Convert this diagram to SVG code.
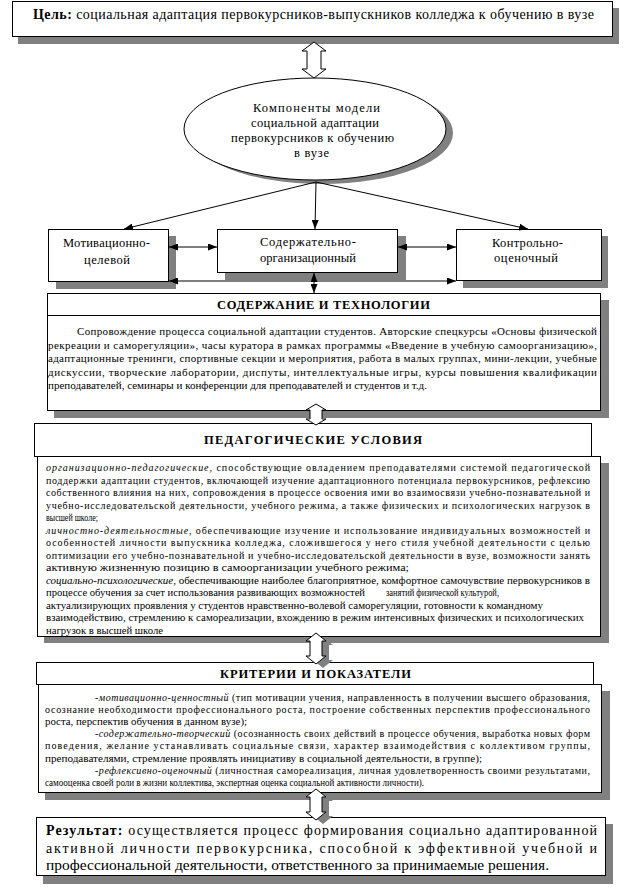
<svg xmlns="http://www.w3.org/2000/svg" width="625" height="890" viewBox="0 0 625 890">
<style>
.box{fill:#fff;stroke:#000;stroke-width:1}
.sh{fill:#808080;stroke:none}
.t{fill:#000}
.b{font-weight:bold}
.i{font-style:italic}
.ln{fill:none;stroke:#000;stroke-width:1}
.da{fill:#fff;stroke:#000;stroke-width:1}
.f14{font-size:14px}.f12{font-size:12.5px}.f11{font-size:11px}.f10{font-size:10px}
</style>
<defs>
<marker id="ah" markerUnits="userSpaceOnUse" markerWidth="9" markerHeight="7" refX="9" refY="3.5" orient="auto-start-reverse">
<path d="M0,0 L9,3.5 L0,7 Z" fill="#000"/>
</marker>
</defs>
<rect width="625" height="890" fill="#fff"/>
<g font-family="Liberation Serif, DejaVu Serif, serif">

<g id="goal">
<rect class="sh" x="18" y="8" width="601" height="36"/>
<rect class="box" x="12.5" y="1.5" width="600" height="35"/>
<text class="t f14" x="33" y="19" textLength="561" lengthAdjust="spacing"><tspan class="b">Цель:</tspan> социальная адаптация первокурсников-выпускников колледжа к обучению в  вузе</text>
</g>

<g id="components">
<ellipse class="sh" cx="322" cy="133" rx="131" ry="51"/>
<ellipse class="box" cx="315" cy="129" rx="131" ry="51"/>
<g class="t f12">
<text x="253" y="112" textLength="127" lengthAdjust="spacing">Компоненты модели</text>
<text x="251" y="127" textLength="128" lengthAdjust="spacing">социальной адаптации</text>
<text x="231" y="142" textLength="163" lengthAdjust="spacing">первокурсников к обучению</text>
<text x="294" y="157" textLength="35" lengthAdjust="spacing">в вузе</text>
</g>
</g>

<g id="motiv">
<rect class="sh" x="56" y="236" width="120" height="53"/>
<rect class="box" x="48.5" y="229.5" width="120" height="52"/>
<g class="t f12">
<text x="63" y="247" textLength="87" lengthAdjust="spacing">Мотивационно-</text>
<text x="84" y="264" textLength="46" lengthAdjust="spacing">целевой</text>
</g>
</g>

<g id="content-org">
<rect class="sh" x="225" y="236" width="181" height="44"/>
<rect class="box" x="217.5" y="229.5" width="180" height="43"/>
<g class="t f12">
<text x="260" y="246" textLength="96" lengthAdjust="spacing">Содержательно-</text>
<text x="260" y="262" textLength="96" lengthAdjust="spacing">организационный</text>
</g>
</g>

<g id="control">
<rect class="sh" x="463" y="236" width="145" height="52"/>
<rect class="box" x="456.5" y="229.5" width="145" height="51"/>
<g class="t f12">
<text x="492" y="247" textLength="71" lengthAdjust="spacing">Контрольно-</text>
<text x="494" y="262" textLength="64" lengthAdjust="spacing">оценочный</text>
</g>
</g>

<g id="content-tech">
<rect class="sh" x="54" y="300" width="555" height="118"/>
<rect class="box" x="47.5" y="293.5" width="553" height="22"/>
<rect class="box" x="47.5" y="315.5" width="553" height="95"/>
<text class="t b f12" x="217" y="309" textLength="213" lengthAdjust="spacing">СОДЕРЖАНИЕ И ТЕХНОЛОГИИ</text>
<g class="t f11">
<text x="77" y="335" textLength="520" lengthAdjust="spacing">Сопровождение процесса социальной адаптации студентов. Авторские спецкурсы «Основы физической</text>
<text x="48" y="348.5" textLength="549" lengthAdjust="spacing">рекреации и саморегуляции», часы куратора в рамках программы «Введение в учебную самоорганизацию»,</text>
<text x="48" y="362" textLength="549" lengthAdjust="spacing">адаптационные тренинги, спортивные секции и мероприятия, работа в малых группах, мини-лекции, учебные</text>
<text x="48" y="375.5" textLength="549" lengthAdjust="spacing">дискуссии, творческие лаборатории, диспуты, интеллектуальные игры, курсы повышения квалификации</text>
<text x="48" y="389" textLength="379" lengthAdjust="spacingAndGlyphs">преподавателей, семинары и конференции для преподавателей и студентов и т.д.</text>
</g>
</g>

<g id="ped-conditions">
<rect class="box" x="34.5" y="423.5" width="557" height="33"/>
<text class="t b f12" x="204" y="444" textLength="218" lengthAdjust="spacing">ПЕДАГОГИЧЕСКИЕ УСЛОВИЯ</text>
<rect class="sh" x="44" y="463" width="565" height="180"/>
<rect class="box" x="37.5" y="456.5" width="563" height="180"/>
<g class="t f10">
<text x="46" y="471" textLength="544" lengthAdjust="spacing"><tspan class="i">организационно-педагогические</tspan>, способствующие овладением преподавателями системой педагогической</text>
<text x="46" y="483.5" textLength="544" lengthAdjust="spacing">поддержки адаптации студентов, включающей изучение адаптационного потенциала первокурсников, рефлексию</text>
<text x="46" y="496" textLength="544" lengthAdjust="spacing">собственного влияния на них, сопровождения в процессе освоения ими во взаимосвязи учебно-познавательной и</text>
<text x="46" y="508.5" textLength="544" lengthAdjust="spacing">учебно-исследовательской деятельности, учебного режима, а также физических и психологических нагрузок в</text>
<text x="46" y="521" textLength="52" lengthAdjust="spacingAndGlyphs">высшей школе;</text>
<text x="46" y="533.5" textLength="544" lengthAdjust="spacing"><tspan class="i">личностно-деятельностные</tspan>, обеспечивающие изучение и использование индивидуальных возможностей и</text>
<text x="46" y="546" textLength="544" lengthAdjust="spacing">особенностей личности выпускника колледжа, сложившегося у него стиля учебной деятельности с целью</text>
<text x="46" y="558.5" textLength="544" lengthAdjust="spacing">оптимизации его учебно-познавательной и учебно-исследовательской деятельности в вузе, возможности занять</text>
<text x="46" y="571" textLength="363" lengthAdjust="spacingAndGlyphs">активную жизненную позицию в самоорганизации учебного режима;</text>
<text x="46" y="583.5" textLength="544" lengthAdjust="spacingAndGlyphs"><tspan class="i">социально-психологические</tspan>, обеспечивающие наиболее благоприятное, комфортное самочувствие первокурсников в</text>
<text x="46" y="596" textLength="319" lengthAdjust="spacingAndGlyphs">процессе обучения за счет использования развивающих возможностей</text>
<text x="386" y="596" textLength="113" lengthAdjust="spacingAndGlyphs">занятий физической культурой,</text>
<text x="46" y="608.5" textLength="497" lengthAdjust="spacingAndGlyphs">актуализирующих проявления у студентов нравственно-волевой саморегуляции, готовности к командному</text>
<text x="46" y="621" textLength="538" lengthAdjust="spacingAndGlyphs">взаимодействию, стремлению к самореализации, вхождению в режим интенсивных физических и психологических</text>
<text x="46" y="633.5" textLength="117" lengthAdjust="spacingAndGlyphs">нагрузок в высшей школе</text>
</g>
</g>

<g id="criteria">
<rect class="box" x="36.5" y="662.5" width="557" height="22"/>
<text class="t b f12" x="220" y="678" textLength="191" lengthAdjust="spacing">КРИТЕРИИ И ПОКАЗАТЕЛИ</text>
<rect class="sh" x="45" y="691" width="565" height="109"/>
<rect class="box" x="38.5" y="684.5" width="563" height="108"/>
<g class="t f10">
<text x="95" y="700.5" textLength="495" lengthAdjust="spacing"><tspan class="i">-мотивационно-ценностный</tspan> (тип мотивации учения, направленность в получении высшего образования,</text>
<text x="45" y="712.7" textLength="545" lengthAdjust="spacing">осознание необходимости профессионального роста, построение собственных перспектив профессионального</text>
<text x="45" y="724.9" textLength="202" lengthAdjust="spacingAndGlyphs">роста, перспектив обучения в данном вузе);</text>
<text x="95" y="737.1" textLength="495" lengthAdjust="spacing"><tspan class="i">-содержательно-творческий</tspan> (осознанность своих действий в процессе обучения, выработка новых форм</text>
<text x="45" y="749.3" textLength="545" lengthAdjust="spacing">поведения, желание устанавливать социальные связи, характер взаимодействия с коллективом группы,</text>
<text x="45" y="761.5" textLength="437" lengthAdjust="spacingAndGlyphs">преподавателями, стремление проявлять инициативу в социальной деятельности, в группе);</text>
<text x="95" y="773.7" textLength="495" lengthAdjust="spacing"><tspan class="i">-рефлексивно-оценочный</tspan> (личностная самореализация, личная удовлетворенность своими результатами,</text>
<text x="45" y="785.9" textLength="379" lengthAdjust="spacingAndGlyphs">самооценка своей роли в жизни коллектива, экспертная оценка социальной активности личности).</text>
</g>
</g>

<g id="result">
<rect class="sh" x="43" y="824" width="570" height="60"/>
<rect class="box" x="36.5" y="817.5" width="569" height="58"/>
<g class="t f14">
<text x="46" y="835" textLength="551" lengthAdjust="spacing"><tspan class="b">Результат:</tspan> осуществляется процесс формирования социально адаптированной</text>
<text x="46" y="852.5" textLength="551" lengthAdjust="spacing">активной личности первокурсника, способной к эффективной учебной и</text>
<text x="46" y="870" textLength="503" lengthAdjust="spacingAndGlyphs">профессиональной деятельности, ответственного за принимаемые решения.</text>
</g>
</g>
</g>

<g id="connectors">
<path class="ln" d="M316,182 L124,229" marker-end="url(#ah)"/>
<path class="ln" d="M316,182 L315,229" marker-end="url(#ah)"/>
<path class="ln" d="M316,182 L528,229" marker-end="url(#ah)"/>
<path class="ln" d="M169,247 L217,247" marker-start="url(#ah)" marker-end="url(#ah)"/>
<path class="ln" d="M398,247 L456,247" marker-start="url(#ah)" marker-end="url(#ah)"/>
<path class="ln" d="M169,281 L456,281" marker-start="url(#ah)" marker-end="url(#ah)"/>
<path class="ln" d="M314,273 L314,293" marker-start="url(#ah)" marker-end="url(#ah)"/>
<path class="da" d="M314,42 L326,51 L321,51 L321,69 L326,69 L314,78 L302,69 L307,69 L307,51 L302,51 Z"/>
<path class="da" d="M316,404 L326,410 L322,410 L322,419 L326,419 L316,425 L306,419 L310,419 L310,410 L306,410 Z"/>
<path class="sh" d="M323,637 L333,645 L329,645 L329,660 L333,660 L323,668 L313,660 L317,660 L317,645 L313,645 Z"/>
<path class="da" d="M316,633 L326,641 L322,641 L322,656 L326,656 L316,664 L306,656 L310,656 L310,641 L306,641 Z"/>
<path class="sh" d="M323,793 L333,801 L329,801 L329,816 L333,816 L323,824 L313,816 L317,816 L317,801 L313,801 Z"/>
<path class="da" d="M316,789 L326,797 L322,797 L322,812 L326,812 L316,820 L306,812 L310,812 L310,797 L306,797 Z"/>
</g>
</svg>
